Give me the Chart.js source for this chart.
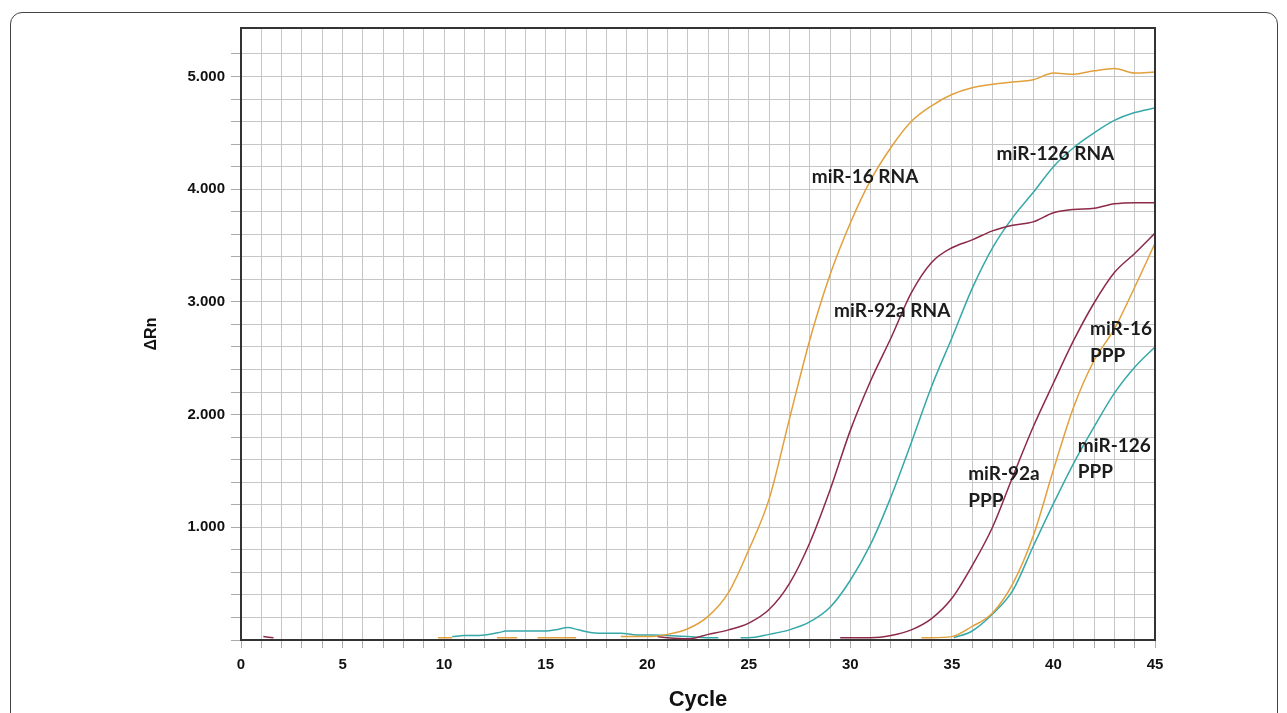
<!DOCTYPE html>
<html>
<head>
<meta charset="utf-8">
<script src="https://cdn.jsdelivr.net/npm/chart.js@4/dist/chart.umd.min.js"></script>
<style>
  html, body { margin: 0; padding: 0; background: #fff; overflow: hidden; }
  #wrap { position: relative; width: 1287px; height: 713px; }
  #frame { position: absolute; left: 10px; top: 12px; width: 1266px; height: 740px; border: 1px solid #444; border-radius: 12px; }
  #box { position: absolute; left: 0; top: 0; width: 1287px; height: 713px; }
</style>
</head>
<body>
<div id="wrap">
  <div id="frame"></div>
  <div id="box"><canvas id="pcr"></canvas></div>
</div>
<script>
// amplification curves, delta Rn per cycle (null = gap in trace)
const mir16RnaCycles = [9.7, 10.4, 11.5, 12.6, 13.6, 14.1, 14.6, 15.5, 16.5, 17.6, 18.7, 19.5,
  20, 21, 22, 23, 24, 25, 26, 27, 28, 29, 30, 31, 32, 33, 34, 35, 36, 37, 38, 39, 40, 41, 42, 43, 44, 45];
const mir16RnaValues = [0.02, 0.02, null, 0.02, 0.02, null, 0.02, 0.02, 0.02, null, 0.03, 0.03,
  0.03, 0.05, 0.10, 0.21, 0.42, 0.80, 1.25, 1.96, 2.66, 3.24, 3.70, 4.08, 4.37, 4.60, 4.74, 4.84,
  4.90, 4.93, 4.95, 4.97, 5.03, 5.02, 5.05, 5.07, 5.03, 5.04];

const mir92aRnaCycles = [1.1, 1.6, 2.0, 20.5, 21, 22, 23, 24, 25, 26, 27, 28, 29, 30, 31, 32, 33,
  34, 35, 36, 37, 38, 39, 40, 41, 42, 43, 44, 45];
const mir92aRnaValues = [0.03, 0.02, null, 0.03, 0.02, 0.01, 0.05, 0.09, 0.15, 0.27, 0.50, 0.86,
  1.33, 1.86, 2.30, 2.68, 3.08, 3.35, 3.48, 3.55, 3.63, 3.68, 3.71, 3.79, 3.82, 3.83, 3.87, 3.88, 3.88];

const mir126RnaCycles = [10.4, 11, 11.7, 12.8, 13, 14, 15, 15.5, 16.1, 16.6, 17.3, 18, 18.7, 19.5,
  20.3, 21, 22, 23, 23.5, 24, 24.6, 25, 26, 27, 28, 29, 30, 31, 32, 33, 34, 35, 36, 37, 38, 39, 40,
  41, 42, 43, 44, 45];
const mir126RnaValues = [0.03, 0.04, 0.04, 0.07, 0.08, 0.08, 0.08, 0.09, 0.11, 0.09, 0.065, 0.06,
  0.06, 0.045, 0.045, 0.04, 0.03, 0.02, 0.02, null, 0.02, 0.02, 0.05, 0.09, 0.16, 0.29, 0.53, 0.85,
  1.27, 1.75, 2.25, 2.68, 3.12, 3.48, 3.75, 3.97, 4.20, 4.37, 4.50, 4.61, 4.68, 4.72];

const mir92aPppCycles = [29.5, 30, 31, 32, 33, 34, 35, 36, 37, 38, 39, 40, 41, 42, 43, 44, 45];
const mir92aPppValues = [0.02, 0.02, 0.02, 0.04, 0.09, 0.19, 0.37, 0.66, 1.0, 1.45, 1.89, 2.28,
  2.66, 2.99, 3.26, 3.43, 3.61];

const mir16PppCycles = [33.5, 34, 35, 36, 37, 38, 39, 40, 41, 42, 43, 44, 45];
const mir16PppValues = [0.02, 0.02, 0.03, 0.12, 0.24, 0.50, 0.92, 1.51, 2.07, 2.48, 2.76, 3.13, 3.52];

const mir126PppCycles = [35.1, 36, 37, 38, 39, 40, 41, 42, 43, 44, 45];
const mir126PppValues = [0.02, 0.08, 0.23, 0.44, 0.83, 1.21, 1.57, 1.89, 2.19, 2.42, 2.60];

// curve labels, anchored in cycle / delta Rn units
const curveLabels = [
  { text: "miR-16 RNA", x: 28.1, y: 4.11 },
  { text: "miR-126 RNA", x: 37.2, y: 4.31 },
  { text: "miR-92a RNA", x: 29.2, y: 2.92 },
  { text: "miR-16", x: 41.8, y: 2.76 },
  { text: "PPP", x: 41.8, y: 2.52 },
  { text: "miR-126", x: 41.2, y: 1.72 },
  { text: "PPP", x: 41.2, y: 1.49 },
  { text: "miR-92a", x: 35.8, y: 1.47 },
  { text: "PPP", x: 35.8, y: 1.23 }
];

const orange = "#e2a03c";
const maroon = "#8c2a47";
const teal = "#36a8a8";
const tickFont = { family: "'Liberation Sans', Arial, sans-serif", size: 15, weight: "bold" };

function pts(xs, ys) {
  return xs.map((x, i) => ({ x: x, y: ys[i] }));
}

function line(label, xs, ys, color) {
  return { label: label, data: pts(xs, ys), borderColor: color, backgroundColor: color };
}

const plotFrame = {
  id: "plotFrame",
  afterDatasetsDraw(chart) {
    const ctx = chart.ctx;
    const a = chart.chartArea;
    ctx.save();
    ctx.strokeStyle = "#333";
    ctx.lineWidth = 2;
    ctx.beginPath();
    ctx.moveTo(a.left, a.top);
    ctx.lineTo(a.right, a.top);
    ctx.lineTo(a.right, a.bottom);
    ctx.stroke();

    ctx.font = "bold 19px Lato, 'Open Sans', sans-serif";
    ctx.fillStyle = "#1c1c1c";
    ctx.textAlign = "left";
    ctx.textBaseline = "middle";
    curveLabels.forEach((l) => {
      ctx.fillText(l.text, chart.scales.x.getPixelForValue(l.x), chart.scales.y.getPixelForValue(l.y));
    });
    ctx.restore();
  }
};

new Chart(document.getElementById("pcr"), {
  type: "line",
  data: {
    datasets: [
      line("miR-16 RNA", mir16RnaCycles, mir16RnaValues, orange),
      line("miR-92a RNA", mir92aRnaCycles, mir92aRnaValues, maroon),
      line("miR-126 RNA", mir126RnaCycles, mir126RnaValues, teal),
      line("miR-92a PPP", mir92aPppCycles, mir92aPppValues, maroon),
      line("miR-16 PPP", mir16PppCycles, mir16PppValues, orange),
      line("miR-126 PPP", mir126PppCycles, mir126PppValues, teal)
    ]
  },
  options: {
    responsive: true,
    maintainAspectRatio: false,
    animation: false,
    layout: { padding: { left: 140, right: 132, top: 28, bottom: 0 } },
    elements: {
      point: { radius: 0 },
      line: { borderWidth: 1.5, cubicInterpolationMode: "monotone" }
    },
    plugins: {
      legend: { display: false },
      tooltip: { enabled: false }
    },
    scales: {
      x: {
        type: "linear",
        min: 0,
        max: 45,
        afterFit: (s) => { s.height = 73; },
        ticks: {
          stepSize: 1,
          autoSkip: false,
          maxRotation: 0,
          padding: 8,
          color: "#111",
          font: tickFont,
          callback: (v) => (v % 5 === 0 ? String(v) : "")
        },
        grid: { color: "#c6c6c6", tickLength: 8, tickColor: "#aaa" },
        border: { color: "#333", width: 2 },
        title: {
          display: true,
          text: "Cycle",
          color: "#111",
          font: { family: "'Liberation Sans', Arial, sans-serif", size: 22, weight: "bold" },
          padding: { top: 4, bottom: 0 }
        }
      },
      y: {
        type: "linear",
        min: 0,
        max: 5.43,
        afterFit: (s) => { s.width = 101; },
        afterBuildTicks: (s) => {
          s.ticks = s.ticks.filter((t) => Math.abs(t.value / 0.2 - Math.round(t.value / 0.2)) < 1e-6);
        },
        ticks: {
          stepSize: 0.2,
          autoSkip: false,
          padding: 6,
          color: "#111",
          font: tickFont,
          callback: (v) => {
            const r = Math.round(v);
            return Math.abs(v - r) < 1e-6 && r > 0 ? r + ".000" : "";
          }
        },
        grid: { color: "#c6c6c6", tickLength: 10, tickColor: "#aaa" },
        border: { color: "#333", width: 2 },
        title: {
          display: true,
          text: "ΔRn",
          color: "#111",
          font: { family: "'Liberation Sans', Arial, sans-serif", size: 16, weight: "bold" },
          padding: { top: 2, bottom: 4 }
        }
      }
    }
  },
  plugins: [plotFrame]
});
</script>
</body>
</html>
